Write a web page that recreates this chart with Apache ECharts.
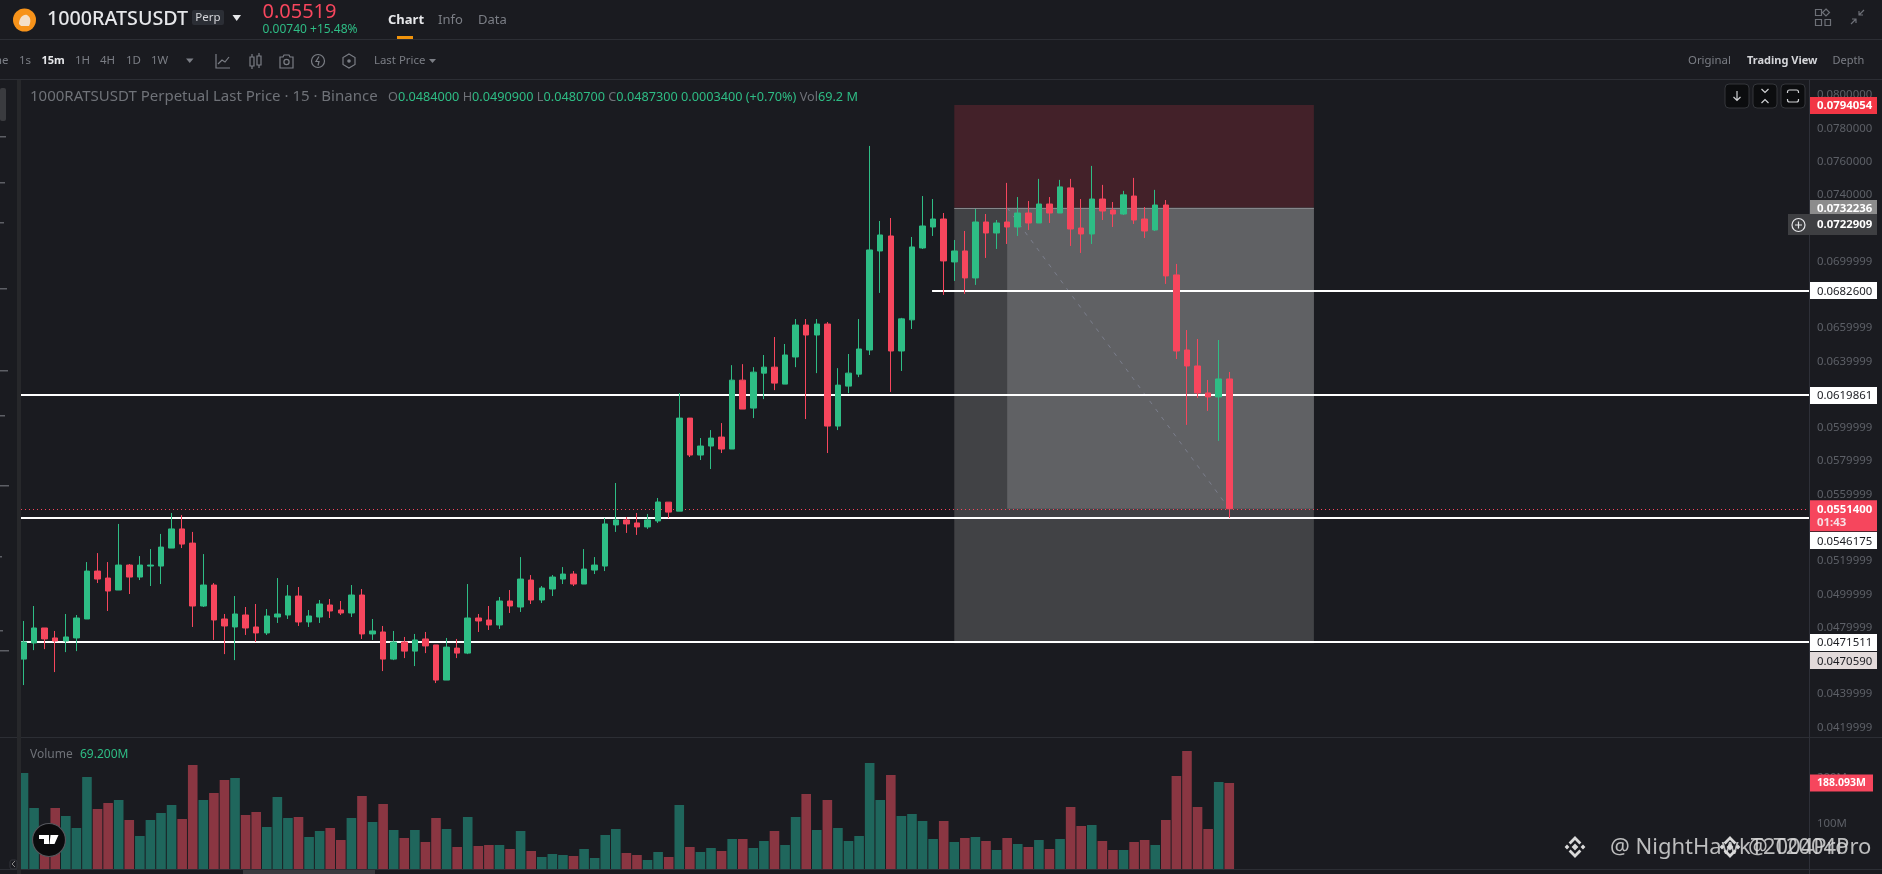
<!DOCTYPE html>
<html><head><meta charset="utf-8">
<style>html,body{margin:0;padding:0;background:#1a1b20;overflow:hidden}#c{width:1882px;height:874px}</style>
<script src="https://cdn.jsdelivr.net/npm/echarts@6/dist/echarts.min.js"></script>
</head><body><div id="c"></div>
<script>
const opens=[.04611,.04708,.04798,.04738,.04720,.04738,.04852,.05140,.05098,.05026,.05176,.05104,.05170,.05170,.05278,.05393,.05308,.04930,.05056,.04852,.04804,.04876,.04804,.04768,.04864,.04876,.04990,.04834,.04864,.04936,.04906,.04888,.04996,.04762,.04774,.04611,.04714,.04659,.04732,.04696,.04485,.04677,.04647,.04858,.04846,.04816,.04960,.04924,.05086,.04966,.05032,.05092,.05122,.05062,.05146,.05170,.05417,.05447,.05429,.05405,.05441,.05554,.05500,.06059,.05837,.05891,.05945,.05873,.06287,.06119,.06329,.06365,.06263,.06426,.06618,.06558,.06624,.06011,.06251,.06323,.06468,.07063,.07153,.06462,.06649,.07081,.07207,.07255,.06997,.07063,.06901,.07237,.07171,.07237,.07207,.07291,.07231,.07345,.07291,.07442,.07201,.07165,.07375,.07309,.07285,.07393,.07255,.07189,.07339,.06919,.06468,.06372,.06210,.06186,.06294];
const closes=[.04714,.04798,.04732,.04720,.04744,.04858,.05140,.05092,.05020,.05176,.05104,.05176,.05176,.05284,.05393,.05302,.04930,.05056,.04846,.04810,.04882,.04798,.04768,.04870,.04882,.04990,.04834,.04870,.04942,.04900,.04888,.04996,.04762,.04780,.04611,.04714,.04659,.04726,.04690,.04485,.04683,.04647,.04858,.04840,.04816,.04960,.04930,.05092,.04966,.05038,.05104,.05122,.05062,.05152,.05176,.05423,.05447,.05423,.05405,.05447,.05555,.05494,.06059,.05837,.05891,.05939,.05873,.06287,.06113,.06335,.06365,.06269,.06438,.06618,.06558,.06624,.06011,.06257,.06329,.06474,.07069,.07159,.06462,.06655,.07087,.07213,.07255,.07003,.07063,.06901,.07237,.07171,.07231,.07207,.07291,.07231,.07345,.07291,.07448,.07195,.07165,.07375,.07303,.07285,.07400,.07249,.07183,.07339,.06913,.06462,.06372,.06210,.06186,.06294,.05514];
const highs=[.04840,.04930,.04798,.04780,.04882,.04876,.05194,.05248,.05194,.05423,.05182,.05230,.05272,.05363,.05489,.05477,.05375,.05242,.05068,.04882,.04990,.04924,.04942,.04912,.05098,.05056,.05044,.04906,.04966,.04972,.04960,.05056,.05032,.04852,.04810,.04780,.04744,.04762,.04774,.04696,.04738,.04732,.05062,.04882,.04930,.04984,.05026,.05224,.05116,.05050,.05116,.05164,.05140,.05272,.05224,.05459,.05669,.05465,.05489,.05483,.05579,.05554,.06209,.06059,.05939,.05987,.06029,.06377,.06383,.06365,.06438,.06546,.06504,.06654,.06654,.06654,.06636,.06359,.06444,.06654,.07694,.07243,.07261,.06661,.07147,.07393,.07375,.07291,.07129,.07183,.07315,.07285,.07249,.07472,.07387,.07363,.07496,.07387,.07490,.07496,.07375,.07574,.07460,.07357,.07424,.07502,.07327,.07430,.07369,.06985,.06588,.06534,.06288,.06528,.06336];
const lows=[.04455,.04665,.04671,.04533,.04653,.04659,.04852,.05068,.04900,.05026,.05002,.05086,.05050,.05062,.05278,.05278,.04804,.04924,.04726,.04641,.04605,.04756,.04714,.04756,.04828,.04852,.04810,.04804,.04828,.04858,.04876,.04864,.04732,.04726,.04539,.04605,.04617,.04569,.04647,.04467,.04485,.04617,.04641,.04774,.04786,.04792,.04888,.04894,.04942,.04948,.04990,.05062,.05050,.05062,.05122,.05140,.05375,.05369,.05357,.05393,.05429,.05458,.05500,.05825,.05807,.05753,.05849,.05873,.06113,.06059,.06173,.06227,.06263,.06365,.06053,.06329,.05849,.05987,.06209,.06305,.06438,.06811,.06216,.06342,.06594,.07075,.07153,.06799,.06883,.06805,.06859,.07021,.07075,.07105,.07153,.07189,.07231,.07231,.07291,.07093,.07051,.07105,.07249,.07207,.07279,.07225,.07141,.07183,.06865,.06414,.06018,.06180,.06102,.05922,.05459];
const volumes=[210,133.4,70.7,133.4,115.9,89.7,201.2,131.2,144.3,150.9,107.2,72.2,107.2,122.5,140,109.4,227.4,150.9,166.2,194.6,199,118.1,124.7,91.9,157.5,111.5,113.7,70,83.1,89.7,63.4,111.5,159.7,102.8,142.2,85.3,67.8,85.3,59,111.5,87.5,48.1,113.7,50.3,52.5,52.5,43.7,83.1,39.4,26.2,32.8,30.6,28.4,43.7,24.1,74.4,87.5,35,30.6,19.7,37.2,26.2,140,48.1,37.2,45.9,39.4,65.6,65.6,45.9,61.2,83.1,52.5,113.7,164,85.3,150.9,89.7,61.2,72.2,231.8,150.9,205.6,115.9,120.3,105,65.6,105,59,67.8,70,61.2,41.6,67.8,54.7,48.1,63.4,43.7,65.6,135.6,94,96.2,61.2,41.6,41.6,59,63.4,52.5,107.2,203.4,258.1,135.6,87.5,190.3,188.093];
const priceTicks=[0.08,0.078,0.076,0.074,0.0699999,0.0659999,0.0639999,0.0599999,0.0579999,0.0559999,0.0519999,0.0499999,0.0479999,0.0439999,0.0419999];
const fullLines=[0.0619861,0.0546175,0.0471511];
const shortLine=0.06826, stopPrice=0.0794054, entryPrice=0.0732236, targetPrice=0.047059, lastPrice=0.05514;
const priceTags=[
 {p:0.0794054,t:'0.0794054',bg:'#f23645',fg:'#fff',b:1,dy:0},
 {p:0.0732236,t:'0.0732236',bg:'#8c8c8c',fg:'#fff',b:1,dy:0},
 {p:0.06826,t:'0.0682600',bg:'#ffffff',fg:'#1a1b20',b:0,dy:0},
 {p:0.0619861,t:'0.0619861',bg:'#ffffff',fg:'#1a1b20',b:0,dy:0},
 {p:0.0546175,t:'0.0546175',bg:'#ffffff',fg:'#1a1b20',b:0,dy:23},
 {p:0.0471511,t:'0.0471511',bg:'#ffffff',fg:'#1a1b20',b:0,dy:0},
 {p:0.047059,t:'0.0470590',bg:'#e2dada',fg:'#1a1b20',b:0,dy:17}
];
const F='"Noto Sans",sans-serif';
const UP='#2ebd85',DOWN='#f6465d',UPV='#1f665c',DOWNV='#8a3642';
const pxStep=10.577,firstX=23.5,gridL=21,axisX=1809;
const xMin=(gridL-firstX)/pxStep,xMax=(axisX-firstX)/pxStep;
const xBoxL=88,xBoxM=93,xBoxR=122,xShort=85.9;
const candleData=opens.map((o,i)=>[i,o,closes[i],lows[i],highs[i]]);
const volData=volumes.map((v,i)=>({value:[i,v],itemStyle:{color:closes[i]>=opens[i]?UPV:DOWNV}}));
echarts.graphic.registerShape('svgd',echarts.graphic.extendShape({
 shape:{d:''},
 buildPath(ctx,shape){const p=echarts.graphic.makePath(shape.d,{});p.buildPath(ctx,p.shape);}
}));
const chart=echarts.init(document.getElementById('c'),null,{renderer:'canvas'});
function hl(v,x0,x1,c,w,t){return [{coord:[x0,v],lineStyle:{color:c,width:w,type:t||'solid'}},{coord:[x1,v]}];}
const option={
 backgroundColor:'#1a1b20',animation:false,
 grid:[{left:gridL,right:1882-axisX,top:80,bottom:874-737},{left:gridL,right:1882-axisX,top:738,bottom:5}],
 xAxis:[{type:'value',gridIndex:0,min:xMin,max:xMax,show:false},{type:'value',gridIndex:1,min:xMin,max:xMax,show:false}],
 yAxis:[
  {type:'value',gridIndex:0,position:'right',min:0.04143,max:0.080901,splitLine:{show:false},axisLine:{show:false},axisTick:{show:false},
   axisLabel:{customValues:priceTicks,formatter:v=>v.toFixed(7),color:'#5d6067',fontFamily:F,fontSize:11.4,margin:8,padding:[3,0,0,0]}},
  {type:'value',gridIndex:1,position:'right',min:0,max:286.5,interval:100,splitLine:{show:false},axisLine:{show:false},axisTick:{show:false},
   axisLabel:{showMaxLabel:false,formatter:v=>v?v+'M':'',color:'#5d6067',fontFamily:F,fontSize:11.4,margin:8,padding:[3,0,0,0]}}
 ],
 series:[
  {type:'line',xAxisIndex:0,yAxisIndex:0,z:1,data:[],silent:true,
   markArea:{silent:true,z:1,data:[
    [{coord:[xBoxL,stopPrice],itemStyle:{color:'#432129'}},{coord:[xBoxR,entryPrice]}],
    [{coord:[xBoxL,entryPrice],itemStyle:{color:'#414245'}},{coord:[xBoxR,targetPrice]}],
    [{coord:[xBoxM,entryPrice],itemStyle:{color:'#606164'}},{coord:[xBoxR,lastPrice]}]
   ]},
   markLine:{silent:true,z:1,symbol:['none','none'],label:{show:false},animation:false,data:[
    hl(entryPrice,xBoxL,xBoxR,'#85868a',1),
    [{coord:[xBoxM,entryPrice],lineStyle:{color:'#7b7e8c',width:1,type:[4,6]}},{coord:[114,lastPrice]}],
    hl(lastPrice,xMin,xMax,'#f6465d',1,[1,3]),
    hl(shortLine,xShort,xMax,'#ffffff',2),
    ...fullLines.map(v=>hl(v,xMin,xMax,'#ffffff',2))
   ]}},
  {type:'candlestick',xAxisIndex:0,yAxisIndex:0,z:3,barWidth:6,encode:{x:0,y:[1,2,3,4]},data:candleData,silent:true,
   itemStyle:{color:UP,color0:DOWN,borderColor:UP,borderColor0:DOWN,borderWidth:1}},
  {type:'bar',xAxisIndex:1,yAxisIndex:1,barWidth:9.6,data:volData,silent:true}
 ]
};
chart.setOption(option);

/* ---- page chrome and annotations ---- */
const g=[];const GRAY='#7b7e85',LINE='#2c2e34';
function txt(x,y,t,size,color,o){o=o||{};g.push({type:'text',z:o.z||50,silent:true,style:{x,y,text:t,fill:color,font:(o.weight||(o.bold?'bold':'normal'))+' '+size+'px '+(o.font||F),textAlign:o.align||'left',textVerticalAlign:'middle',opacity:o.opacity==null?1:o.opacity}});}
function rect(x,y,w,h,c,o){o=o||{};g.push({type:'rect',z:o.z||40,silent:true,shape:{x,y,width:w,height:h,r:o.r||0},style:{fill:c,stroke:o.stroke||null,lineWidth:o.lw||1}});}
function path(d,o){o=o||{};g.push({type:'svgd',z:o.z||50,silent:true,shape:{d},style:{fill:o.fill||'none',stroke:o.stroke===undefined?'#888':o.stroke,lineWidth:o.lw||1.2}});}
function circ(cx,cy,r,o){o=o||{};g.push({type:'circle',z:o.z||50,silent:true,shape:{cx,cy,r},style:{fill:o.fill||'none',stroke:o.stroke||null,lineWidth:o.lw||1.2}});}
// frame lines
rect(0,39,1882,1,LINE);rect(0,79,1882,1,LINE);rect(0,737,1882,1,LINE);rect(0,869,1882,1,'#2c2e34');
rect(axisX,80,1,794,'#2e3038');rect(0,80,17,794,'#1a1b20',{z:30});rect(17,80,4,794,'#27282b',{z:41});
rect(243,870,132,4,'#3a3b3f');
// header
circ(24.5,20,11.5,{fill:'#f7931a'});path('M19 24 C19 18 23 14 27 15 C31 17 31 22 29 26 L21 26 Z',{fill:'#f4dfc8',stroke:null});
txt(47,19.5,'1000RATSUSDT',19.7,'#e6e7ea',{weight:'500'});
rect(192,10,32,15,'#2b2e35',{r:2});txt(208,17.5,'Perp',11.5,'#d5d6da',{align:'center'});
path('M232.5 15 L241 15 L236.7 21 Z',{fill:'#e6e7ea',stroke:null});
txt(262.5,12,'0.05519',20,'#f6465d');txt(262.5,30,'0.00740 +15.48%',12,'#2ebd85');
txt(388,20,'Chart',13,'#e6e7ea',{bold:true});txt(438,20,'Info',13,GRAY);txt(478,20,'Data',13,GRAY);
rect(397,36,16,3,'#f0930b');
// top-right icons
path('M1815.5 9.5h6v6h-6zM1826 9l3.5 3.5-3.5 3.5-3.5-3.5zM1815.5 19.5h6v6h-6zM1825 19.5h5.5v6H1825z',{stroke:'#6d7077'});
path('M1864 10l-5 5M1859 11v4h4M1851 24l5-5M1856 23v-4h-4',{stroke:'#6d7077'});
// second row
txt(-18,61,'Time',11.5,GRAY);txt(19,61,'1s',11.5,GRAY);txt(41.5,61,'15m',11,'#e6e7ea',{bold:true});
txt(75,61,'1H',11.5,GRAY);txt(100,61,'4H',11.5,GRAY);txt(126,61,'1D',11.5,GRAY);txt(151,61,'1W',11.5,GRAY);
path('M186 58.5h7.5l-3.75 4.5z',{fill:GRAY,stroke:null});
path('M216 54v14h14M218 64l4-4 3 2 4-5',{stroke:GRAY});
path('M250 57h4v9h-4zM252 54v3M252 66v3M257 56h4v9h-4zM259 53v3M259 65v3',{stroke:GRAY});
path('M280 57h3l1-2h5l1 2h3v11h-13z',{stroke:GRAY});circ(286.5,62,2.6,{stroke:GRAY});
circ(318,61,6.5,{stroke:GRAY});path('M319 56.5l-3 5h3l-1 4',{stroke:GRAY});
path('M349 54l6 3.5v7l-6 3.5-6-3.5v-7z',{stroke:GRAY});circ(349,61,1.8,{fill:GRAY});
txt(374,61,'Last Price',11.4,GRAY);path('M429 59h7l-3.5 4z',{fill:GRAY,stroke:null});
txt(1688,61,'Original',11.4,GRAY);txt(1747,61,'Trading View',11,'#d4d5d9',{bold:true});txt(1832.5,61,'Depth',11,GRAY);
// legend row
txt(30,97,'1000RATSUSDT Perpetual Last Price · 15 · Binance',15,'#6f7278');
const gv=(k,v)=>'{g|'+k+'}{v|'+v+'}';
g.push({type:'text',z:50,silent:true,style:{x:388,y:97,textVerticalAlign:'middle',font:'12.7px '+F,
 text:gv('O','0.0484000')+' '+gv('H','0.0490900')+' '+gv('L','0.0480700')+' '+gv('C','0.0487300')+' {v|0.0003400 (+0.70%)} '+gv('Vol','69.2 M'),
 rich:{g:{fill:'#6f7278',font:'12.7px '+F},v:{fill:'#2ebd85',font:'12.7px '+F}}}});
// chart buttons
[1725,1753,1781].forEach(x=>rect(x,84,24,24,'#0c0d0f',{r:4,stroke:'#34363b',z:45}));
path('M1737 91v9M1733.5 97l3.5 3.5 3.5-3.5',{stroke:'#d0d1d4'});
path('M1761.5 89l3.5 3.5 3.5-3.5M1761.5 103l3.5-3.5 3.5 3.5',{stroke:'#d0d1d4'});
path('M1787.5 93v-1a2 2 0 0 1 2-2h7a2 2 0 0 1 2 2v1M1787.5 99v1a2 2 0 0 0 2 2h7a2 2 0 0 0 2-2v-1',{stroke:'#d0d1d4'});
// left-edge slivers of the drawing toolbar
rect(0,88,6,33,'#3a3b3f',{r:2,z:45});
[[136,6],[182,5],[222,4],[288,7],[370,8],[415,5],[485,9],[556,2],[630,3],[650,9]].forEach(a=>rect(0,a[0],a[1],1.5,'#5d5f65',{z:45}));
rect(10,860,7,9,'#1a1b20',{stroke:'#33353a',z:45,r:2});path('M15 861l-3 3 3 3',{stroke:'#888',lw:1,z:46});
// volume legend, logo, watermark
txt(30,755,'Volume',12,'#6f7278');txt(80,755,'69.200M',12,'#2ebd85');
circ(49,840,16.5,{fill:'#0b0b0d',stroke:'#55575c',lw:1.2,z:55});
path('M39 835h10v9h-5v-5h-5zM50.5 835h8l-4 9h-5z',{fill:'#fff',stroke:null,z:56});
function wm(x,t){txt(x,848,t,22,'#d9d9d9',{z:60,opacity:.85});}
function bn(cx){const y=847;const dia=(x,yy,r)=>'M'+x+' '+(yy-r)+'l'+r+' '+r+'-'+r+' '+r+'-'+r+'-'+r+'z';
 path(dia(cx,y,3.4)+dia(cx-8,y,2.4)+dia(cx+8,y,2.4)+'M'+cx+' '+(y-11)+'l6.4 6.4-2 2-4.4-4.4-4.4 4.4-2-2zM'+cx+' '+(y+11)+'l6.4-6.4-2-2-4.4 4.4-4.4-4.4-2 2z',{fill:'#d9d9d9',stroke:null,z:60});}
bn(1575);wm(1610,'@ NightHawkT2004Pro');bn(1730);wm(1748,'@ T2004Pro');
// price tags
priceTags.forEach(t=>{const y=chart.convertToPixel({yAxisIndex:0},t.p)+t.dy;
 rect(1810,Math.round(y-8),67,17,t.bg,{z:52});
 txt(1817,y+1,t.t,11.4,t.fg,{z:53,bold:!!t.b});});
rect(1788,214,89,21,'#3e3f42',{z:52});circ(1798.5,225,6.5,{stroke:'#e6e7ea',z:53});path('M1798.5 221.5v7M1795 225h7',{stroke:'#e6e7ea',z:53});
txt(1817,225,'0.0722909',11.4,'#fff',{z:53,bold:true});
const ly=chart.convertToPixel({yAxisIndex:0},lastPrice);
rect(1810,ly-8.5,67,31,DOWN,{z:52});txt(1817,ly+1,'0.0551400',11.4,'#fff',{z:53,bold:true});txt(1817,ly+14,'01:43',11.4,'#f7dfe3',{z:53,bold:true});
const vy=chart.convertToPixel({yAxisIndex:1},188.093);
rect(1810,vy-8.5,63,17,DOWN,{z:52});txt(1817,vy+0.5,'188.093M',10.5,'#fff',{z:53,bold:true});
chart.setOption({graphic:{elements:g}});
</script></body></html>
